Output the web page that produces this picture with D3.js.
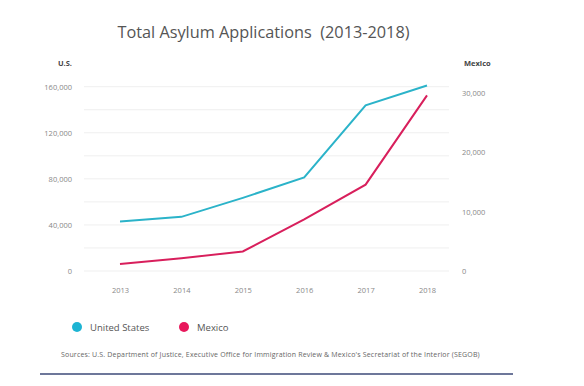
<!DOCTYPE html>
<html>
<head>
<meta charset="utf-8">
<script src="https://cdn.jsdelivr.net/npm/d3@7"></script>
<style>
  body { margin: 0; background: #fff; }
  text { font-family: "Open Sans", sans-serif; }
</style>
</head>
<body>
<svg id="chart"></svg>
<script>
const years = [2013, 2014, 2015, 2016, 2017, 2018];
const usValues = [43000, 47000, 63500, 81300, 143800, 161000];
const mexValues = [1200, 2140, 3300, 8700, 14550, 29600];
const usTicks = [0, 40000, 80000, 120000, 160000];
const usGrid = [0, 20000, 40000, 60000, 80000, 100000, 120000, 140000, 160000];
const mexTicks = [0, 10000, 20000, 30000];
const seriesNames = ["United States", "Mexico"];
const seriesColors = ["#2bb3c9", "#d81f5c"];
const legendColors = ["#1db4d3", "#e8185c"];

const svg = d3.select("#chart").attr("width", 584).attr("height", 386);

// scales
const x = d3.scalePoint().domain(years).range([120, 427]);
const yUS = d3.scaleLinear().domain([0, 160000]).range([271, 86.7]);
const yMex = d3.scaleLinear().domain([0, 30000]).range([271, 93]);

// title
svg.append("text")
    .attr("x", 263.5).attr("y", 38)
    .attr("text-anchor", "middle")
    .style("font-size", "16.3px")
    .style("fill", "#555")
    .style("white-space", "pre")
    .text("Total Asylum Applications  (2013-2018)");

// axis titles
svg.append("text")
    .attr("x", 72).attr("y", 66)
    .attr("text-anchor", "end")
    .style("font-size", "7.5px").style("font-weight", "bold").style("fill", "#444")
    .text("U.S.");
svg.append("text")
    .attr("x", 464).attr("y", 66)
    .style("font-size", "7.5px").style("font-weight", "bold").style("fill", "#444")
    .text("Mexico");

// gridlines
svg.append("g").selectAll("line")
    .data(usGrid)
    .join("line")
    .attr("x1", 84).attr("x2", 449)
    .attr("y1", d => yUS(d)).attr("y2", d => yUS(d))
    .style("stroke", "#efefef").style("stroke-width", 1);

// left axis
const leftAxis = svg.append("g")
    .attr("transform", "translate(72,0)")
    .call(d3.axisLeft(yUS).tickValues(usTicks).tickSize(0).tickPadding(0).tickFormat(d3.format(",")));
leftAxis.select(".domain").remove();
leftAxis.selectAll("text").style("font-size", "7.5px").style("fill", "#888").style("font-family", "'Open Sans', sans-serif");

// right axis
const rightAxis = svg.append("g")
    .attr("transform", "translate(462,0)")
    .call(d3.axisRight(yMex).tickValues(mexTicks).tickSize(0).tickPadding(0).tickFormat(d3.format(",")));
rightAxis.select(".domain").remove();
rightAxis.selectAll("text").style("font-size", "7.5px").style("fill", "#888").style("font-family", "'Open Sans', sans-serif");

// x axis
const xAxis = svg.append("g")
    .attr("transform", "translate(0,288)")
    .call(d3.axisBottom(x).tickSize(0).tickPadding(0));
xAxis.select(".domain").remove();
xAxis.selectAll("text").style("font-size", "7.5px").style("fill", "#888").style("font-family", "'Open Sans', sans-serif");

// lines
const usLine = d3.line().x((d, i) => x(years[i])).y(d => yUS(d));
const mexLine = d3.line().x((d, i) => x(years[i])).y(d => yMex(d));

svg.append("path")
    .attr("d", usLine(usValues))
    .style("fill", "none").style("stroke", seriesColors[0]).style("stroke-width", 2);
svg.append("path")
    .attr("d", mexLine(mexValues))
    .style("fill", "none").style("stroke", seriesColors[1]).style("stroke-width", 2);

// legend
const legendX = [77, 184];
const legend = svg.append("g").selectAll("g")
    .data(seriesNames)
    .join("g")
    .attr("transform", (d, i) => `translate(${legendX[i]},327)`);
legend.append("circle").attr("r", 5).style("fill", (d, i) => legendColors[i]);
legend.append("text")
    .attr("x", 13).attr("y", 3.5)
    .style("font-size", "9.5px").style("fill", "#555")
    .text(d => d);

// source
svg.append("text")
    .attr("x", 61).attr("y", 357)
    .style("font-size", "7px").style("fill", "#666")
    .style("letter-spacing", "0.17px")
    .text("Sources: U.S. Department of Justice, Executive Office for Immigration Review & Mexico's Secretariat of the Interior (SEGOB)");

// bottom rule
svg.append("line")
    .attr("x1", 40).attr("x2", 513)
    .attr("y1", 374).attr("y2", 374)
    .style("stroke", "#3c4a78").style("stroke-width", 1.5);
</script>
</body>
</html>
